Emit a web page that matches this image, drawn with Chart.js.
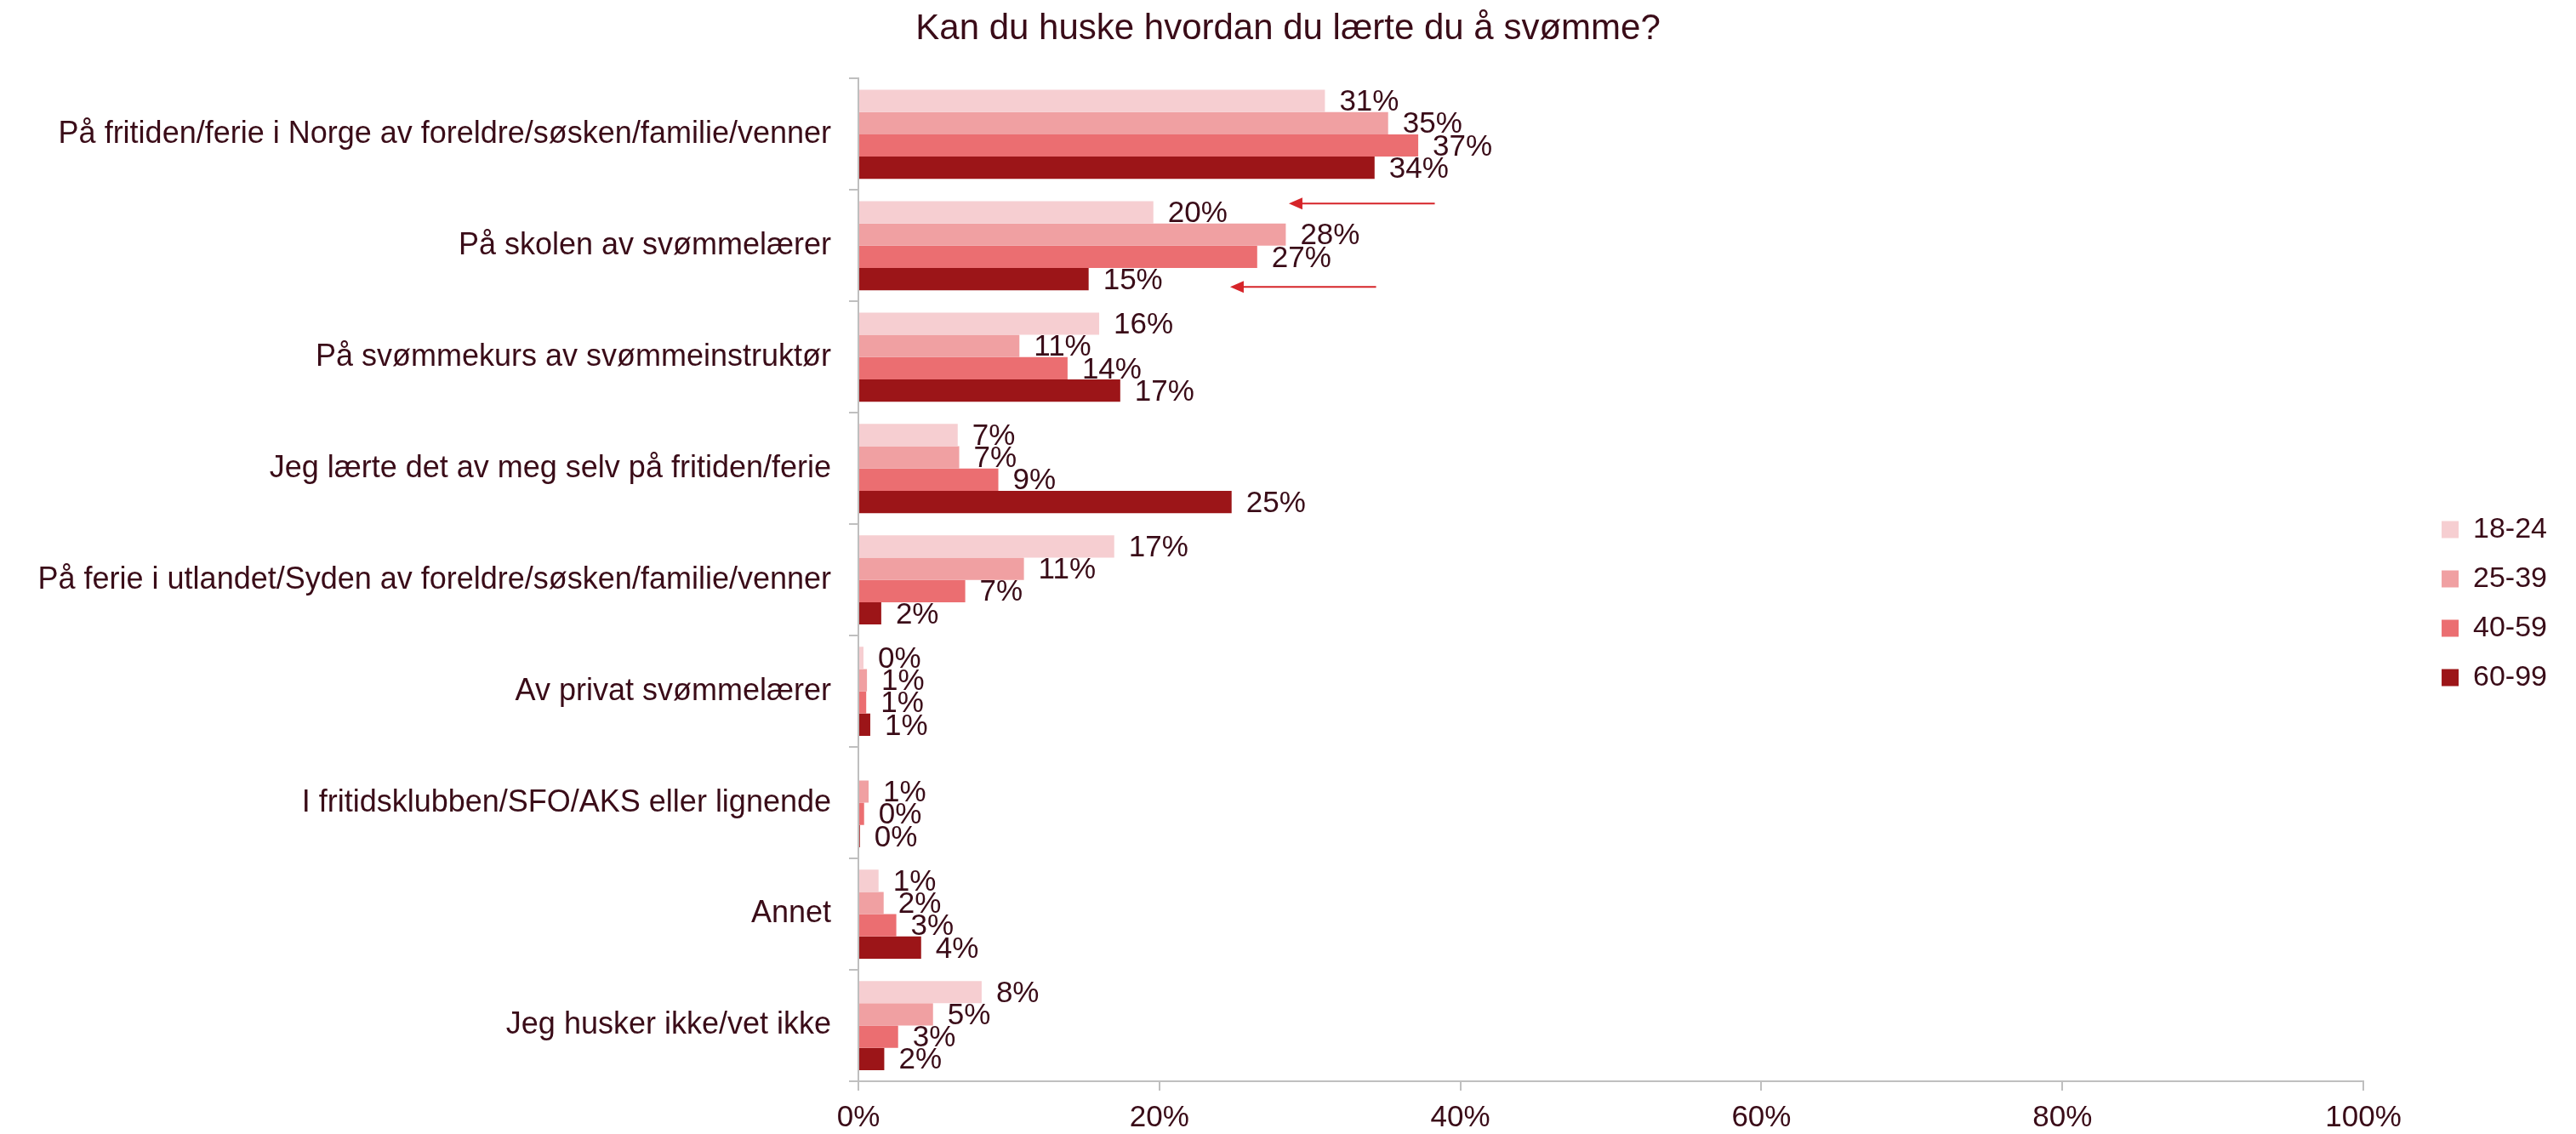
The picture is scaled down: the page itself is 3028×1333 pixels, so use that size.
<!DOCTYPE html>
<html><head><meta charset="utf-8">
<script src="https://cdn.jsdelivr.net/npm/chart.js@4.4.1/dist/chart.umd.min.js"></script>
<style>html,body{margin:0;padding:0;background:#fff;}</style>
</head><body>
<canvas id="c" width="3028" height="1333" style="width:3028px;height:1333px;display:block"></canvas>
<script>
const chartTitle = 'Kan du huske hvordan du lærte du å svømme?';
const categories = [
  'På fritiden/ferie i Norge av foreldre/søsken/familie/venner',
  'På skolen av svømmelærer',
  'På svømmekurs av svømmeinstruktør',
  'Jeg lærte det av meg selv på fritiden/ferie',
  'På ferie i utlandet/Syden av foreldre/søsken/familie/venner',
  'Av privat svømmelærer',
  'I fritidsklubben/SFO/AKS eller lignende',
  'Annet',
  'Jeg husker ikke/vet ikke'
];
const seriesNames = ['18-24', '25-39', '40-59', '60-99'];
const age18_24 = [31.0, 19.6, 16.0, 6.6, 17.0, 0.34, null, 1.34, 8.19];
const age25_39 = [35.2, 28.4, 10.7, 6.7, 11.0, 0.57, 0.68, 1.68, 4.96];
const age40_59 = [37.2, 26.5, 13.9, 9.3, 7.1, 0.52, 0.38, 2.52, 2.64];
const age60_99 = [34.3, 15.3, 17.4, 24.8, 1.52, 0.79, 0.10, 4.17, 1.72];
const seriesColors = ['#F6CED1', '#F0A0A2', '#EB6E71', '#9C1518'];
const xTickLabels = ['0%', '20%', '40%', '60%', '80%', '100%'];
// annotation arrows (value-space): tail %, tip %, category index, offset within category band
const arrowTail = [38.3, 34.4];
const arrowTip = [28.6, 24.7];
const arrowCategory = [1, 1];
const arrowOffset = [-0.378, 0.37];

const FONT = "'Liberation Sans', Arial, sans-serif";
const TEXT = '#3A0C18';
const AXIS = '#BFBFBF';

const valueLabels = {
  id: 'valueLabels',
  afterDatasetsDraw(chart) {
    const ctx = chart.ctx;
    ctx.save();
    ctx.font = '35px ' + FONT;
    ctx.fillStyle = TEXT;
    ctx.textAlign = 'left';
    ctx.textBaseline = 'middle';
    chart.data.datasets.forEach((ds, di) => {
      const meta = chart.getDatasetMeta(di);
      meta.data.forEach((bar, i) => {
        const v = ds.data[i];
        if (v === null || v === undefined) return;
        ctx.fillText(Math.round(v) + '%', bar.x + 17, bar.y + 2);
      });
    });
    ctx.restore();
  }
};

const arrows = {
  id: 'arrows',
  afterDatasetsDraw(chart) {
    const ctx = chart.ctx, xs = chart.scales.x, ys = chart.scales.y;
    const band = ys.getPixelForValue(1) - ys.getPixelForValue(0);
    ctx.save();
    ctx.strokeStyle = '#D62429';
    ctx.fillStyle = '#D62429';
    ctx.lineWidth = 2;
    for (let k = 0; k < arrowTail.length; k++) {
      const y = ys.getPixelForValue(arrowCategory[k]) + arrowOffset[k] * band;
      const x1 = xs.getPixelForValue(arrowTail[k]);
      const x2 = xs.getPixelForValue(arrowTip[k]);
      ctx.beginPath();
      ctx.moveTo(x1, y);
      ctx.lineTo(x2 + 12, y);
      ctx.stroke();
      ctx.beginPath();
      ctx.moveTo(x2, y);
      ctx.lineTo(x2 + 16, y - 7);
      ctx.lineTo(x2 + 16, y + 7);
      ctx.closePath();
      ctx.fill();
    }
    ctx.restore();
  }
};

const RIGHT_PAD = 92;
const layoutShift = {
  id: 'layoutShift',
  afterLayout(chart) {
    const lg = chart.legend;
    if (lg) {
      const d = chart.chartArea.right + 68 - lg.left;
      lg.left += d; lg.right += d;
      lg.top += 43; lg.bottom += 43;
    }
    const tb = chart.titleBlock;
    if (tb) {
      tb.left += RIGHT_PAD / 2; tb.right += RIGHT_PAD / 2;
    }
  }
};

new Chart(document.getElementById('c'), {
  type: 'bar',
  data: {
    labels: categories,
    datasets: [age18_24, age25_39, age40_59, age60_99].map((arr, i) => ({
      label: seriesNames[i],
      data: arr,
      backgroundColor: seriesColors[i],
      borderWidth: 0,
      categoryPercentage: 0.8,
      barPercentage: 1.0
    }))
  },
  options: {
    indexAxis: 'y',
    responsive: false,
    devicePixelRatio: 1,
    animation: false,
    layout: { padding: { left: 0, right: RIGHT_PAD, top: 0, bottom: 0 } },
    plugins: {
      title: {
        display: true, text: chartTitle, color: TEXT,
        font: { family: FONT, size: 42, weight: 'normal' },
        padding: { top: 9, bottom: 33 }
      },
      legend: {
        position: 'right',
        labels: {
          boxWidth: 20, boxHeight: 20, padding: 24, color: TEXT,
          font: { family: FONT, size: 34 }
        }
      },
      tooltip: { enabled: false }
    },
    scales: {
      x: {
        min: 0, max: 100,
        ticks: {
          stepSize: 20, color: TEXT, padding: 11,
          font: { family: FONT, size: 35 },
          callback: (v, i) => xTickLabels[i]
        },
        grid: { drawOnChartArea: false, drawTicks: true, tickLength: 11, color: AXIS, lineWidth: 2 },
        border: { color: AXIS, width: 2 },
        afterFit: (s) => { s.height = 62; }
      },
      y: {
        ticks: { color: TEXT, padding: 21, font: { family: FONT, size: 36 } },
        grid: { drawOnChartArea: false, drawTicks: true, tickLength: 11, color: AXIS, lineWidth: 2, offset: true },
        border: { color: AXIS, width: 2 },
        afterFit: (s) => { s.width = 1009; }
      }
    }
  },
  plugins: [valueLabels, arrows, layoutShift]
});
</script>
</body></html>
